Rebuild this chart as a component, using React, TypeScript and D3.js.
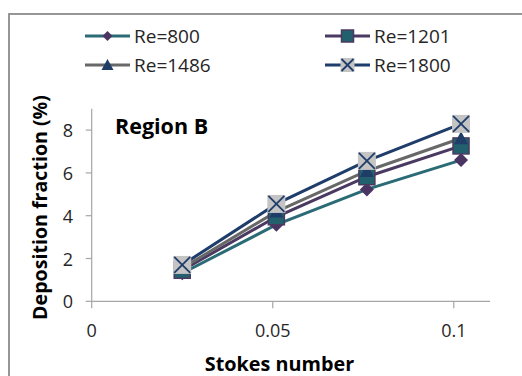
import React from "react";
import * as d3 from "d3";

const stokes = [0.025, 0.051, 0.076, 0.102];
const re800 = [1.31, 3.58, 5.23, 6.6];
const re1201 = [1.45, 3.95, 5.82, 7.26];
const re1486 = [1.55, 4.19, 6.09, 7.62];
const re1800 = [1.7, 4.55, 6.56, 8.29];
const seriesNames = ["Re=800", "Re=1201", "Re=1486", "Re=1800"];
const xTicks = [0, 0.05, 0.1];
const xTickLabels = ["0", "0.05", "0.1"];
const yTicks = [0, 2, 4, 6, 8];

const W = 522, H = 376;
const FONT = "'Open Sans', sans-serif";

type Style = { line: string; marker: "diamond" | "square" | "triangle" | "xbox"; fill: string; stroke: string };
const styles: Style[] = [
  { line: "#2a6b76", marker: "diamond", fill: "#4a3562", stroke: "#4a3562" },
  { line: "#4a3a62", marker: "square", fill: "#23606e", stroke: "#4a3a62" },
  { line: "#686868", marker: "triangle", fill: "#1f3d66", stroke: "#1f3d66" },
  { line: "#1f3d6a", marker: "xbox", fill: "#c4c4c4", stroke: "#1f3d6a" },
];

function Marker({ x, y, s, size }: { x: number; y: number; s: Style; size: number }) {
  const h = size / 2;
  if (s.marker === "diamond") {
    return <path d={`M${x},${y - h}L${x + h},${y}L${x},${y + h}L${x - h},${y}Z`} fill={s.fill} />;
  }
  if (s.marker === "square") {
    return <rect x={x - h} y={y - h} width={size} height={size} fill={s.fill} stroke={s.stroke} strokeWidth={1.5} />;
  }
  if (s.marker === "triangle") {
    return <path d={`M${x},${y - h}L${x + h},${y + h * 0.85}L${x - h},${y + h * 0.85}Z`} fill={s.fill} />;
  }
  return (
    <g>
      <rect x={x - h} y={y - h} width={size} height={size} fill={s.fill} />
      <path d={`M${x - h + 1},${y - h + 1}L${x + h - 1},${y + h - 1}M${x + h - 1},${y - h + 1}L${x - h + 1},${y + h - 1}`} stroke={s.stroke} strokeWidth={1.8} />
    </g>
  );
}

export default function App() {
  const x = d3.scaleLinear().domain([0, 0.11]).range([91.7, 490]);
  const y = d3.scaleLinear().domain([0, 9]).range([301.3, 108.7]);
  const data = [re800, re1201, re1486, re1800];
  const line = d3.line<number>().x((_, i) => x(stokes[i])).y((d) => y(d));
  const markerSizes = [14, 16, 14, 18];
  const legendPos = [
    { lx: 85, ly: 36 },
    { lx: 325, ly: 36 },
    { lx: 85, ly: 65 },
    { lx: 325, ly: 65 },
  ];
  const legendMarkerSizes = [10, 12, 12, 14];
  const axisColor = "#a6a6a6";

  return (
    <svg width={W} height={H} style={{ position: "absolute", left: 0, top: 0, background: "#fff" }} fontFamily={FONT}>
      <rect x={0} y={0} width={W} height={H} fill="#fff" />
      <rect x={9} y={14} width={W + 10} height={H + 10} fill="none" stroke="#8c8c8c" strokeWidth={1.8} />

      {/* axes */}
      <line x1={x(0)} x2={x(0)} y1={y(9)} y2={y(0)} stroke={axisColor} strokeWidth={1.2} />
      <line x1={x(0)} x2={x(0.11)} y1={y(0)} y2={y(0)} stroke={axisColor} strokeWidth={1.2} />
      {yTicks.map((t) => (
        <g key={"y" + t}>
          <line x1={x(0) - 6} x2={x(0)} y1={y(t)} y2={y(t)} stroke={axisColor} strokeWidth={1.2} />
          <text x={73} y={y(t)} textAnchor="end" dominantBaseline="central" fontSize={18} fill="#262626">
            {t}
          </text>
        </g>
      ))}
      {xTicks.map((t, i) => (
        <g key={"x" + t}>
          <line x1={x(t)} x2={x(t)} y1={y(0)} y2={y(0) + 7} stroke={axisColor} strokeWidth={1.2} />
          <text x={x(t)} y={337} textAnchor="middle" fontSize={18} fill="#262626">
            {xTickLabels[i]}
          </text>
        </g>
      ))}

      {/* titles */}
      <text x={279.5} y={371} textAnchor="middle" fontSize={19.8} fontWeight="bold" fill="#000">
        Stokes number
      </text>
      <text transform={`translate(47,207.5) rotate(-90)`} textAnchor="middle" fontSize={19.6} fontWeight="bold" fill="#000">
        Deposition fraction (%)
      </text>
      <text x={115} y={134} fontSize={21.5} fontWeight="bold" fill="#000">
        Region B
      </text>

      {/* series */}
      {data.map((d, si) => (
        <path key={"l" + si} d={line(d) || ""} fill="none" stroke={styles[si].line} strokeWidth={3} />
      ))}
      {data.map((d, si) =>
        d.map((v, i) => <Marker key={`m${si}-${i}`} x={x(stokes[i])} y={y(v)} s={styles[si]} size={markerSizes[si]} />)
      )}

      {/* legend */}
      {seriesNames.map((n, i) => {
        const { lx, ly } = legendPos[i];
        return (
          <g key={"lg" + i}>
            <line x1={lx} x2={lx + 45} y1={ly} y2={ly} stroke={styles[i].line} strokeWidth={3} />
            <Marker x={lx + 22.5} y={ly} s={styles[i]} size={legendMarkerSizes[i]} />
            <text x={lx + 49} y={ly} dominantBaseline="central" fontSize={19} fill="#262626">
              {n}
            </text>
          </g>
        );
      })}
    </svg>
  );
}
